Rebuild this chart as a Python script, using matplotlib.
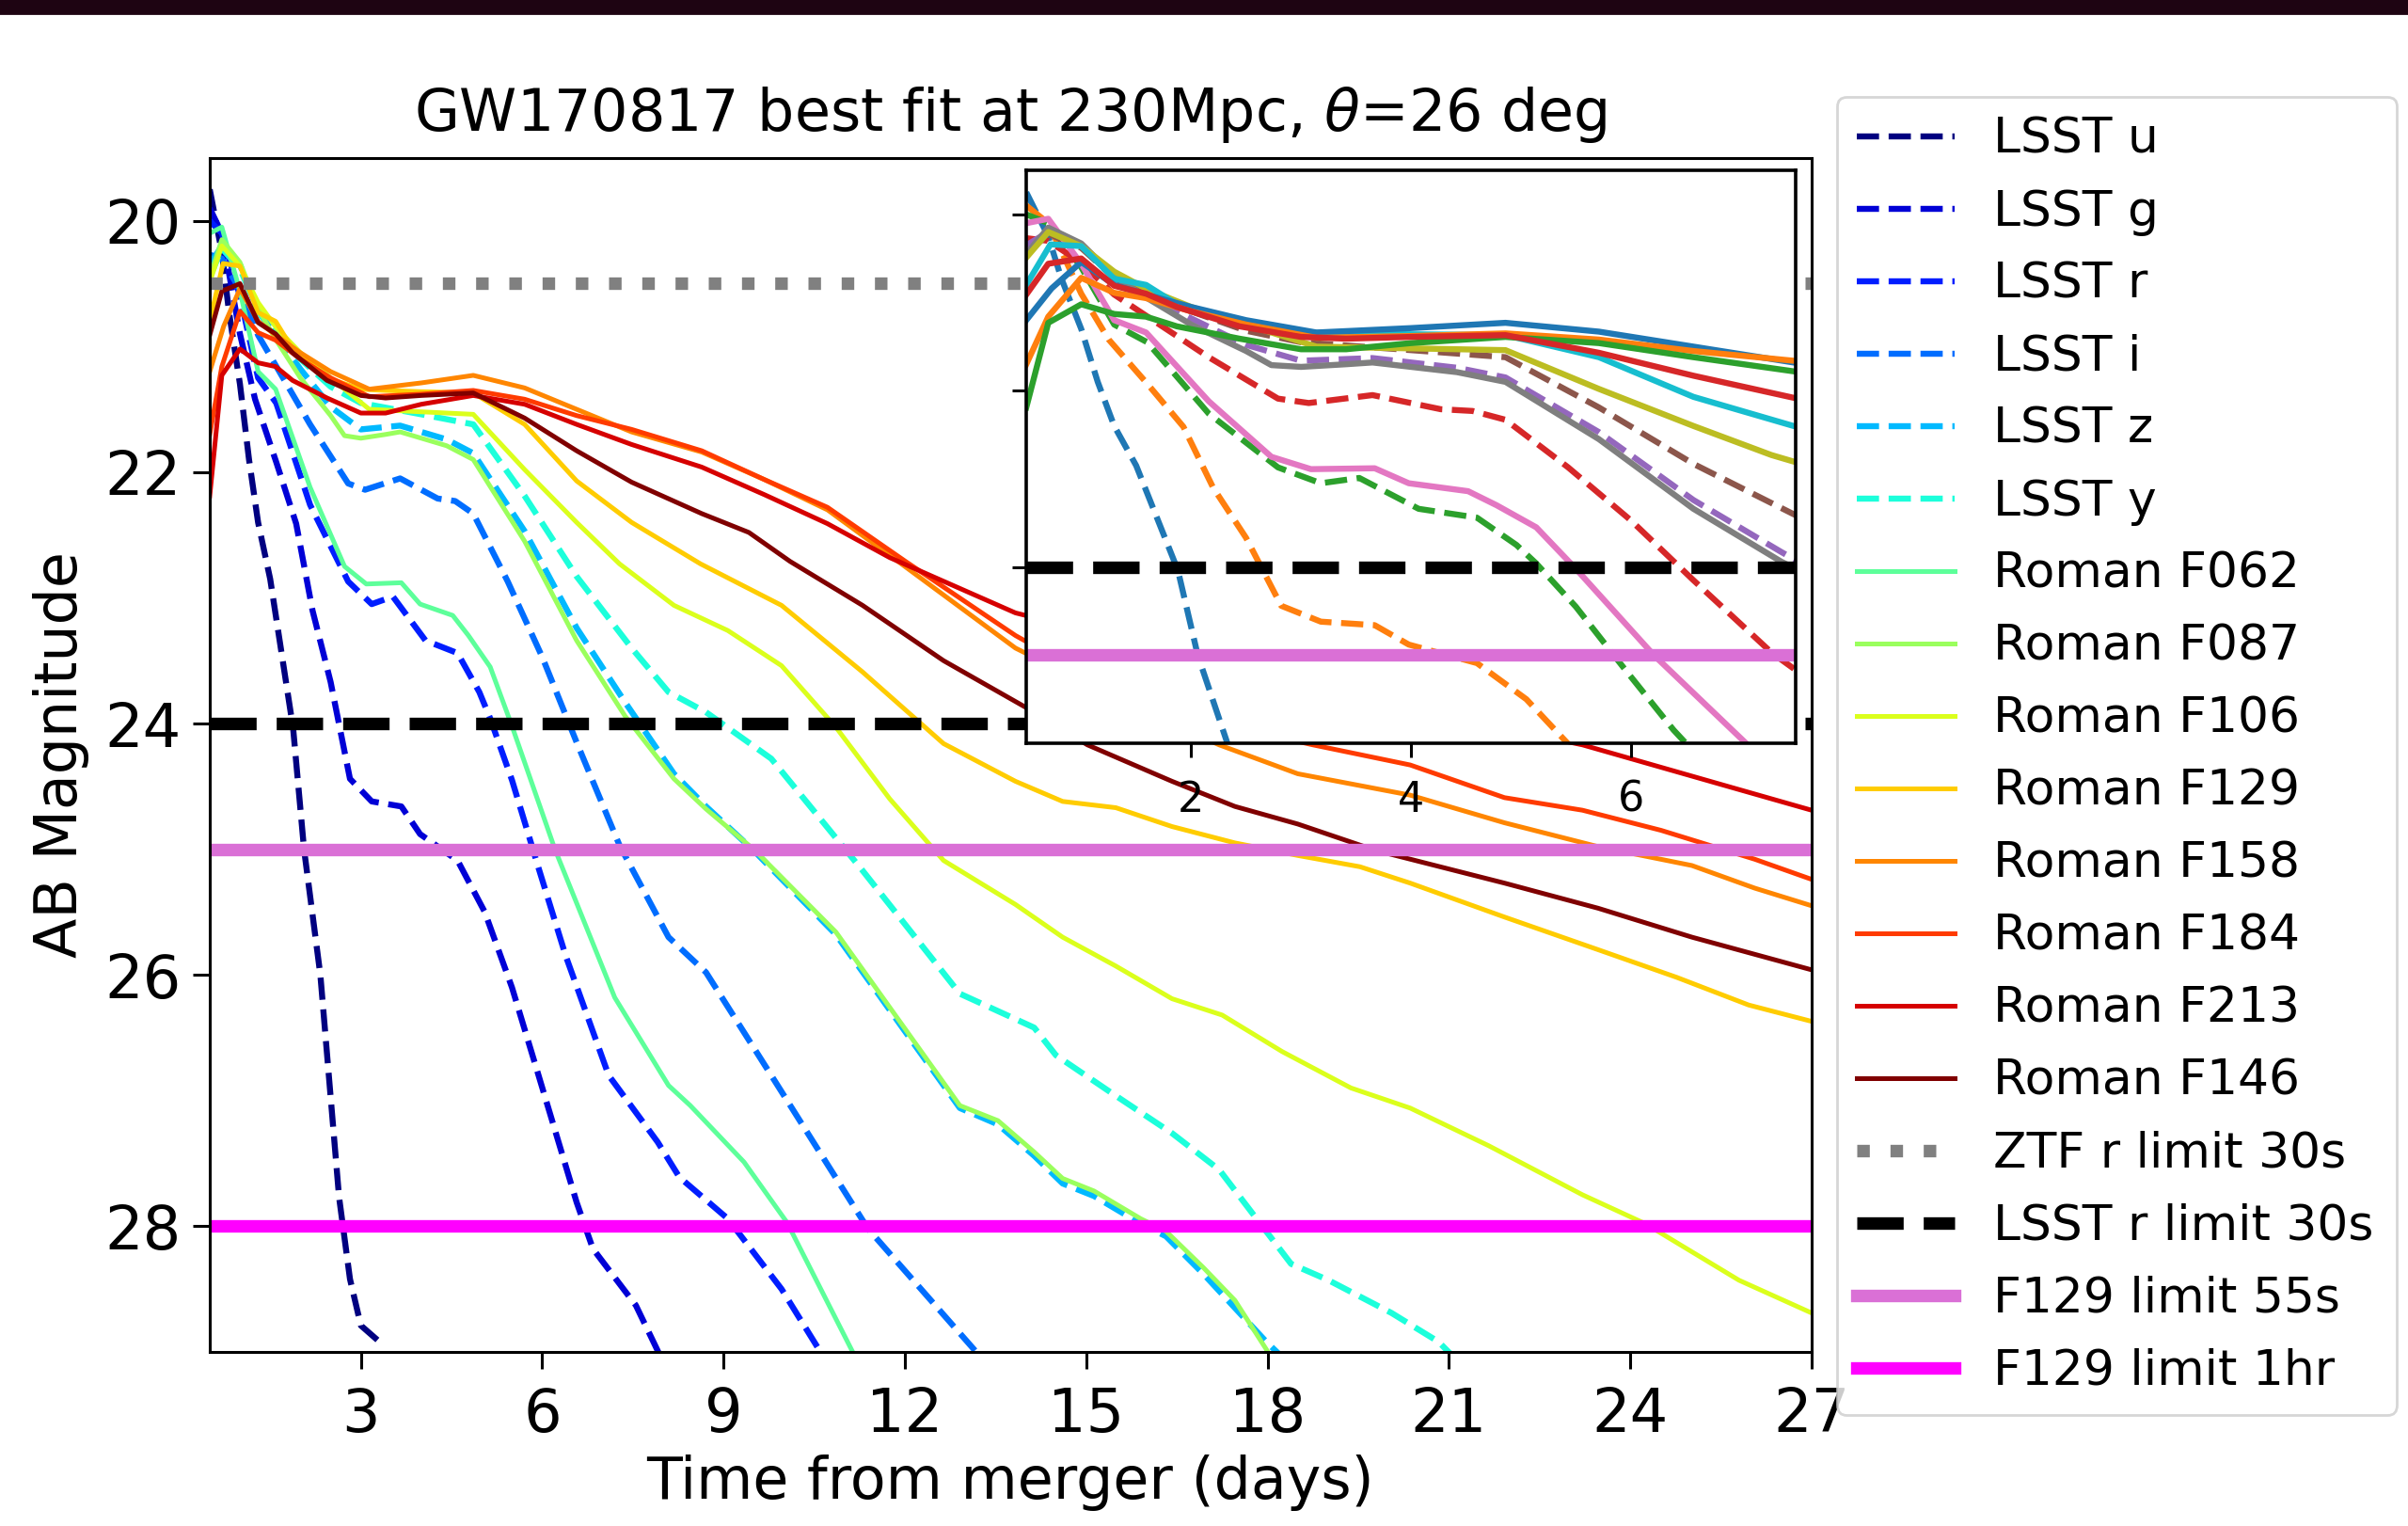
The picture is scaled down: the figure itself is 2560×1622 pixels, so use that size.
import numpy as np
import matplotlib
matplotlib.use("Agg")
import matplotlib.pyplot as plt
from matplotlib.patches import Rectangle

# light curves (days since merger, AB magnitude), read per band
lsst_u_days = [0.5, 0.7, 0.82, 1.0, 1.15, 1.3, 1.5, 1.88, 2.06, 2.33, 2.64, 2.82, 3.0, 3.38]
lsst_u_mag = [19.75, 20.25, 20.73, 21.3, 21.9, 22.4, 22.85, 24.04, 25.0, 26.0, 27.77, 28.42, 28.79, 28.95]

lsst_g_days = [0.5, 0.7, 1.0, 1.25, 1.6, 1.93, 2.2, 2.5, 2.82, 3.18, 3.67, 3.98, 4.6, 5.05,
               5.5, 5.94, 6.57, 6.84, 7.55, 7.91, 8.2]
lsst_g_mag = [19.9, 20.1, 20.9, 21.42, 21.92, 22.41, 23.1, 23.67, 24.44, 24.62, 24.66, 24.88, 25.09, 25.5,
              26.1, 26.8, 27.81, 28.18, 28.63, 28.99, 29.3]

lsst_r_days = [0.5, 0.7, 1.0, 1.3, 1.6, 2.16, 2.79, 3.18, 3.53, 4.07, 4.6, 4.96, 5.14, 5.5, 5.94,
               6.39, 7.1, 7.91, 8.27, 9.07, 9.96, 10.59, 10.9]
lsst_r_mag = [20.0, 20.1, 20.6, 21.25, 21.45, 22.26, 22.87, 23.05, 22.99, 23.34, 23.44, 23.75, 23.96, 24.45, 25.15,
              25.85, 26.8, 27.33, 27.61, 27.94, 28.5, 28.99, 29.2]

lsst_i_days = [0.5, 0.7, 1.0, 1.3, 1.87, 2.16, 2.79, 3.07, 3.65, 4.27, 4.56, 4.86, 5.43, 6.0, 6.57,
               7.28, 8.09, 8.71, 9.79, 11.39, 13.18, 13.5]
lsst_i_mag = [20.27, 20.3, 20.55, 20.91, 21.38, 21.62, 22.09, 22.14, 22.05, 22.21, 22.23, 22.33, 22.87, 23.47, 24.15,
              24.97, 25.7, 25.98, 26.8, 28.02, 29.0, 29.2]

lsst_z_days = [0.5, 0.7, 1.0, 1.3, 1.6, 2.0, 2.5, 3.0, 3.65, 4.42, 4.86, 5.71, 6.57, 7.37, 8.18, 8.71,
               9.52, 10.86, 12.91, 13.54, 14.14, 14.61, 15.13, 15.9, 16.32, 16.94, 17.46, 17.98, 18.26, 18.5]
lsst_z_mag = [20.35, 20.2, 20.35, 20.72, 20.92, 21.18, 21.48, 21.66, 21.63, 21.74, 21.85, 22.47, 23.24, 23.83, 24.4, 24.66,
              25.02, 25.68, 27.06, 27.19, 27.44, 27.66, 27.76, 27.98, 28.08, 28.38, 28.65, 28.92, 29.05, 29.2]

lsst_y_days = [0.5, 0.7, 1.0, 1.3, 1.6, 2.0, 2.5, 3.0, 4.0, 4.86, 5.71, 6.57, 7.48, 8.09, 8.71, 9.79,
               11.3, 12.91, 14.14, 14.5, 15.39, 16.42, 17.2, 17.77, 18.39, 19.01, 20.05, 20.83, 21.2]
lsst_y_mag = [20.45, 20.22, 20.38, 20.72, 20.9, 21.1, 21.32, 21.45, 21.54, 21.62, 22.19, 22.83, 23.4, 23.75, 23.91, 24.28,
              25.17, 26.15, 26.42, 26.64, 26.93, 27.26, 27.55, 27.91, 28.3, 28.43, 28.69, 28.92, 29.1]

f062_days = [0.5, 0.7, 1.0, 1.3, 1.59, 2.16, 2.73, 3.09, 3.67, 3.98, 4.52, 4.78, 5.14, 5.5, 6.21,
             7.2, 8.09, 8.45, 9.34, 10.05, 11.21]
f062_mag = [20.1, 20.05, 20.56, 21.2, 21.34, 22.12, 22.75, 22.89, 22.88, 23.05, 23.14, 23.3, 23.55, 24.02, 25.0,
            26.18, 26.88, 27.04, 27.49, 27.97, 29.07]

f087_days = [0.5, 0.7, 1.0, 1.3, 1.6, 2.0, 2.5, 2.73, 3.0, 3.41, 3.65, 4.42, 4.86, 5.71, 6.57, 7.37,
             8.18, 8.71, 9.52, 10.86, 12.91, 13.54, 14.14, 14.61, 15.13, 15.9, 16.32, 16.94, 17.46, 17.98, 18.2]
f087_mag = [20.45, 20.15, 20.33, 20.7, 20.95, 21.25, 21.55, 21.71, 21.73, 21.7, 21.68, 21.79, 21.9, 22.55, 23.34, 23.94,
            24.44, 24.68, 25.01, 25.66, 27.04, 27.16, 27.41, 27.62, 27.72, 27.94, 28.04, 28.33, 28.59, 28.98, 29.15]

f106_days = [0.5, 0.7, 1.0, 1.3, 1.6, 2.0, 2.5, 3.14, 4.0, 4.86, 5.71, 6.57, 7.28, 8.18, 9.07, 9.96,
             10.86, 11.75, 12.64, 13.83, 14.61, 15.49, 16.42, 17.25, 18.24, 19.38, 20.36, 21.66, 23.21, 24.25,
             25.8, 27.0]
f106_mag = [20.49, 20.2, 20.36, 20.65, 20.85, 21.05, 21.25, 21.5, 21.52, 21.54, 21.98, 22.4, 22.73, 23.06, 23.26, 23.54,
            24.03, 24.6, 25.09, 25.44, 25.7, 25.93, 26.19, 26.32, 26.61, 26.9, 27.06, 27.36, 27.75, 27.98,
            28.43, 28.69]

f129_days = [0.5, 0.72, 1.0, 1.3, 1.59, 1.87, 2.44, 3.0, 3.41, 4.0, 4.86, 5.71, 6.57, 7.48, 8.62, 9.96,
             11.3, 12.64, 13.83, 14.61, 15.49, 16.42, 17.46, 18.5, 19.53, 20.36, 21.92, 23.47, 24.77, 25.96, 27.0]
f129_mag = [20.8, 20.34, 20.36, 20.73, 20.8, 21.02, 21.25, 21.34, 21.35, 21.36, 21.37, 21.62, 22.07, 22.4, 22.73, 23.06,
            23.59, 24.16, 24.46, 24.62, 24.67, 24.82, 24.95, 25.05, 25.14, 25.27, 25.54, 25.8, 26.02, 26.24, 26.37]

f158_days = [0.5, 0.73, 1.0, 1.3, 1.59, 2.0, 2.5, 3.14, 4.0, 4.86, 5.71, 6.57, 7.48, 8.64, 9.68, 10.72,
             12.0, 13.83, 15.5, 17.2, 18.5, 20.36, 21.92, 23.47, 25.02, 26.06, 27.0]
f158_mag = [21.2, 20.84, 20.54, 20.8, 20.91, 21.05, 21.2, 21.34, 21.29, 21.23, 21.33, 21.5, 21.68, 21.84, 22.06, 22.3,
            22.75, 23.4, 23.8, 24.17, 24.4, 24.57, 24.79, 24.98, 25.13, 25.31, 25.45]

f184_days = [0.5, 0.7, 1.0, 1.3, 1.59, 2.0, 2.5, 3.14, 4.0, 4.86, 5.71, 6.57, 7.48, 8.64, 9.68, 10.72,
             12.01, 13.83, 15.5, 17.2, 18.75, 20.36, 21.92, 23.21, 24.51, 26.06, 27.0]
f184_mag = [21.7, 21.16, 20.72, 20.89, 20.95, 21.1, 21.25, 21.4, 21.38, 21.35, 21.42, 21.55, 21.66, 21.83, 22.06, 22.28,
            22.71, 23.3, 23.75, 24.0, 24.17, 24.33, 24.59, 24.69, 24.85, 25.08, 25.24]

f213_days = [0.5, 0.7, 1.0, 1.3, 1.59, 1.87, 2.44, 3.0, 3.41, 4.0, 4.86, 5.71, 6.57, 7.48, 8.64, 9.68,
             10.72, 11.75, 13.83, 17.0, 20.0, 23.21, 25.54, 27.0]
f213_mag = [22.19, 21.23, 21.02, 21.13, 21.16, 21.27, 21.41, 21.53, 21.53, 21.46, 21.39, 21.46, 21.62, 21.78, 21.96, 22.18,
            22.41, 22.68, 23.12, 23.5, 23.85, 24.17, 24.49, 24.69]

f146_days = [0.5, 0.7, 1.0, 1.3, 1.59, 1.87, 2.44, 3.0, 3.41, 4.0, 4.86, 5.71, 6.57, 7.48, 8.64, 9.42,
             10.1, 11.3, 12.64, 14.14, 15.02, 16.42, 17.46, 18.5, 19.79, 21.92, 23.47, 25.02, 27.0]
f146_mag = [20.91, 20.56, 20.5, 20.81, 20.9, 21.05, 21.27, 21.39, 21.41, 21.39, 21.37, 21.57, 21.83, 22.08, 22.33, 22.48,
            22.71, 23.06, 23.5, 23.91, 24.17, 24.46, 24.66, 24.8, 25.01, 25.27, 25.47, 25.7, 25.96]

lsst_labels = ["LSST u", "LSST g", "LSST r", "LSST i", "LSST z", "LSST y"]
roman_labels = ["Roman F062", "Roman F087", "Roman F106", "Roman F129",
                "Roman F158", "Roman F184", "Roman F213", "Roman F146"]

# detection limits (AB mag)
ztf_r_30s = 20.5
lsst_r_30s = 24.0
f129_55s = 25.0
f129_1hr = 28.0

lsst_curves = [(lsst_u_days, lsst_u_mag), (lsst_g_days, lsst_g_mag), (lsst_r_days, lsst_r_mag),
               (lsst_i_days, lsst_i_mag), (lsst_z_days, lsst_z_mag), (lsst_y_days, lsst_y_mag)]
roman_curves = [(f062_days, f062_mag), (f087_days, f087_mag), (f106_days, f106_mag), (f129_days, f129_mag),
                (f158_days, f158_mag), (f184_days, f184_mag), (f213_days, f213_mag), (f146_days, f146_mag)]

curves = [(d, m, lab, "--") for (d, m), lab in zip(lsst_curves, lsst_labels)] + \
         [(d, m, lab, "-") for (d, m), lab in zip(roman_curves, roman_labels)]
colors = plt.cm.jet(np.linspace(0, 1, len(curves)))

fig = plt.figure(figsize=(12.8, 8.11), dpi=200)
fig.add_artist(Rectangle((0, 1 - 14 / 1622), 1, 14 / 1622, transform=fig.transFigure,
                         color="#1e0412", zorder=10))

ax = fig.add_axes([0.0871, 0.1141, 0.6652, 0.7824])
for (d, m, lab, ls), c in zip(curves, colors):
    ax.plot(d, m, ls, color=c, lw=2.3 if ls == "--" else 1.8, label=lab)

ax.axhline(ztf_r_30s, color="gray", ls=":", lw=4.8, label="ZTF r limit 30s")
ax.axhline(lsst_r_30s, color="black", ls="--", lw=4.8, label="LSST r limit 30s")
ax.axhline(f129_55s, color="orchid", lw=4.8, label="F129 limit 55s")
ax.axhline(f129_1hr, color="magenta", lw=4.8, label="F129 limit 1hr")

ax.set_xlim(0.5, 27)
ax.set_ylim(29, 19.5)
ax.set_xticks([3, 6, 9, 12, 15, 18, 21, 24, 27])
ax.set_yticks([20, 22, 24, 26, 28])
ax.tick_params(labelsize=23, length=6.4, width=1.1)
ax.tick_params(axis="x", pad=6.5)
ax.tick_params(axis="y", pad=4.5)
for sp in ax.spines.values():
    sp.set_linewidth(1.1)
ax.set_xlabel("Time from merger (days)", fontsize=22.3, labelpad=4)
ax.set_ylabel("AB Magnitude", fontsize=22.3, labelpad=6)
ax.set_title(r"GW170817 best fit at 230Mpc, $\theta$=26 deg", fontsize=22.3, pad=10.5)

ax.legend(loc="upper left", bbox_to_anchor=(0.7629, 0.0735, 0.2324, 0.863),
          bbox_transform=fig.transFigure, mode="expand", borderaxespad=0,
          fontsize=18.7, labelspacing=0.52)

# zoom on the first week
ax_in = fig.add_axes([0.4262, 0.5129, 0.3195, 0.3755])
for i, (d, m, lab, ls) in enumerate(curves):
    ax_in.plot(d, m, ls, color=f"C{i % 10}", lw=2.3)
ax_in.axhline(lsst_r_30s, color="black", ls="--", lw=4.8)
ax_in.axhline(f129_55s, color="orchid", lw=4.8)
ax_in.set_xlim(0.5, 7.5)
ax_in.set_ylim(26, 19.5)
ax_in.set_xticks([2, 4, 6])
ax_in.set_yticks([20, 22, 24])
ax_in.tick_params(labelsize=16, length=5.4, width=1.1, pad=8.6)
ax_in.tick_params(axis="y", labelleft=False)
for sp in ax_in.spines.values():
    sp.set_linewidth(1.3)

fig.savefig("out.png", dpi=200)
